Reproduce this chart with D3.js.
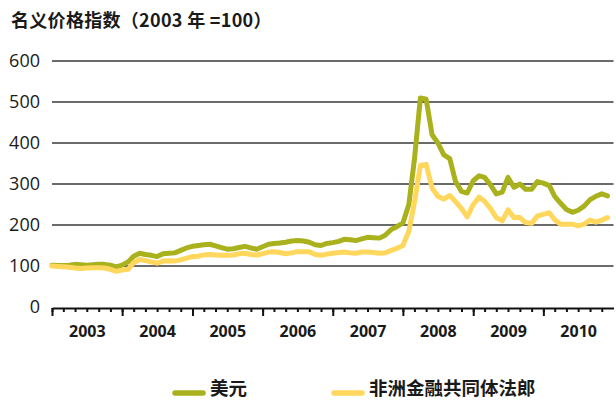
<!DOCTYPE html>
<html>
<head>
<meta charset="utf-8">
<script src="https://cdn.jsdelivr.net/npm/d3@7"></script>
<style>
  html, body { margin: 0; padding: 0; background: #fff; }
  svg { display: block; }
  text { fill: #1a1a1a; }
</style>
</head>
<body>
<svg id="chart" width="616" height="401"></svg>
<script>
// Monthly nominal price index, Jan 2003 – Dec 2010 (2003 = 100)
const startMonth = new Date(2003, 0, 1);
const endMonth = new Date(2011, 0, 1);

const usd = [
  102, 101, 101, 102, 104, 103, 102, 103, 104, 104, 102, 98,
  102, 110, 124, 131, 128, 126, 123, 130, 131, 132, 138, 144,
  148, 150, 152, 153, 149, 145, 141, 142, 145, 148, 144, 141,
  147, 153, 155, 156, 158, 161, 162, 161, 158, 152, 150, 155,
  157, 160, 165, 164, 162, 166, 170, 169, 168, 175, 189, 196,
  205, 250, 360, 510, 507, 420, 400, 371, 362, 306, 282, 278,
  308, 320, 316, 298, 276, 280, 316, 292, 300, 287, 287, 306,
  302, 296, 270, 253, 238, 231, 236, 246, 262, 270, 276, 271
];

const xof = [
  100, 99, 98, 97, 95, 94, 95, 96, 96, 95, 92, 87,
  90, 92, 108, 116, 113, 110, 107, 112, 113, 112, 115, 119,
  123, 124, 127, 128, 127, 126, 126, 127, 130, 131, 128, 127,
  130, 134, 135, 133, 130, 132, 135, 135, 135, 128, 126, 129,
  131, 133, 134, 132, 131, 134, 134, 133, 131, 132, 138, 143,
  150, 185, 255, 345, 348, 290, 270, 263, 272, 257, 240, 220,
  250, 268, 258, 240, 218, 210, 237, 218, 218, 206, 204, 222,
  226, 230, 213, 202, 202, 202, 198, 202, 212, 207, 212, 218
];

const yTicks = [0, 100, 200, 300, 400, 500, 600];
const years = ["2003", "2004", "2005", "2006", "2007", "2008", "2009", "2010"];
const seriesNames = ["美元", "非洲金融共同体法郎"];
const seriesColors = ["#a9b11d", "#ffd75c"];
const titleText = "名义价格指数（2003 年 =100）";

const months = d3.timeMonth.range(startMonth, endMonth);
const svg = d3.select("#chart");

const x = d3.scaleTime().domain([startMonth, endMonth]).range([52, 613.5]);
const y = d3.scaleLinear().domain([0, 600]).range([307, 61]);

// Title
svg.append("text")
  .attr("x", 11).attr("y", 27)
  .style("font-family", "'Noto Sans CJK SC', 'Noto Sans', sans-serif")
  .style("font-size", "18px")
  .style("font-weight", "bold")
  .style("letter-spacing", "0.3px")
  .text(titleText);

// Horizontal gridlines
svg.append("g")
  .selectAll("line")
  .data(yTicks.filter(d => d > 0))
  .join("line")
  .attr("x1", x.range()[0]).attr("x2", x.range()[1])
  .attr("y1", d => y(d)).attr("y2", d => y(d))
  .attr("stroke", "#3a3a3a")
  .attr("stroke-width", 1.3);

// Y tick labels
const yAxis = svg.append("g")
  .attr("transform", "translate(40,0)")
  .call(d3.axisLeft(y).tickValues(yTicks).tickSize(0).tickPadding(0));
yAxis.select(".domain").remove();
yAxis.selectAll("text")
  .style("font-family", "'Open Sans', 'Noto Sans', sans-serif")
  .style("font-size", "18px")
  .attr("fill", "#1a1a1a");

// X axis: minor (bi-monthly) ticks, major (yearly) ticks, year labels centred in each year
const axisY = 308;
const minorTicks = d3.timeMonth.every(2).range(startMonth, endMonth);
const gMinor = svg.append("g")
  .attr("transform", `translate(0,${axisY})`)
  .call(d3.axisBottom(x).tickValues(minorTicks).tickSize(4).tickFormat(""));
gMinor.select(".domain").remove();
gMinor.selectAll(".tick line").attr("stroke", "#111").attr("stroke-width", 2);

const yearStarts = d3.timeYear.range(startMonth, endMonth);
const gMajor = svg.append("g")
  .attr("transform", `translate(0,${axisY})`)
  .call(d3.axisBottom(x).tickValues(yearStarts).tickSize(8).tickSizeOuter(0).tickFormat(""));
gMajor.select(".domain").attr("stroke", "#111").attr("stroke-width", 2);
gMajor.selectAll(".tick line").attr("stroke", "#111").attr("stroke-width", 2);

const yearMids = years.map(yr => new Date(+yr, 6, 1));
const gLabels = svg.append("g")
  .attr("transform", `translate(0,${axisY})`)
  .call(d3.axisBottom(x).tickValues(yearMids).tickSize(0).tickPadding(18)
    .tickFormat(d => years[yearMids.findIndex(m => +m === +d)]));
gLabels.select(".domain").remove();
gLabels.selectAll("text")
  .style("font-family", "'Open Sans', 'Noto Sans', sans-serif")
  .style("font-size", "16px")
  .style("font-weight", "bold")
  .attr("fill", "#1a1a1a");

// Series lines (franc drawn over dollar)
const line = d3.line()
  .x((d, i) => x(months[i]))
  .y(d => y(d))
  .curve(d3.curveLinear);

[usd, xof].forEach((vals, k) => {
  svg.append("path")
    .datum(vals)
    .attr("d", line)
    .attr("fill", "none")
    .attr("stroke", seriesColors[k])
    .attr("stroke-width", 5)
    .attr("stroke-linejoin", "round")
    .attr("stroke-linecap", "round");
});

// Legend
const legendX = [175, 334];
const legend = svg.append("g");
seriesNames.forEach((name, k) => {
  legend.append("line")
    .attr("x1", legendX[k]).attr("x2", legendX[k] + 28)
    .attr("y1", 393).attr("y2", 393)
    .attr("stroke", seriesColors[k])
    .attr("stroke-width", 5.5)
    .attr("stroke-linecap", "round");
  legend.append("text")
    .attr("x", legendX[k] + 35).attr("y", 395)
    .style("font-family", "'Noto Sans CJK SC', 'Noto Sans', sans-serif")
    .style("font-size", "18.5px")
    .style("font-weight", "bold")
    .text(name);
});
</script>
</body>
</html>
